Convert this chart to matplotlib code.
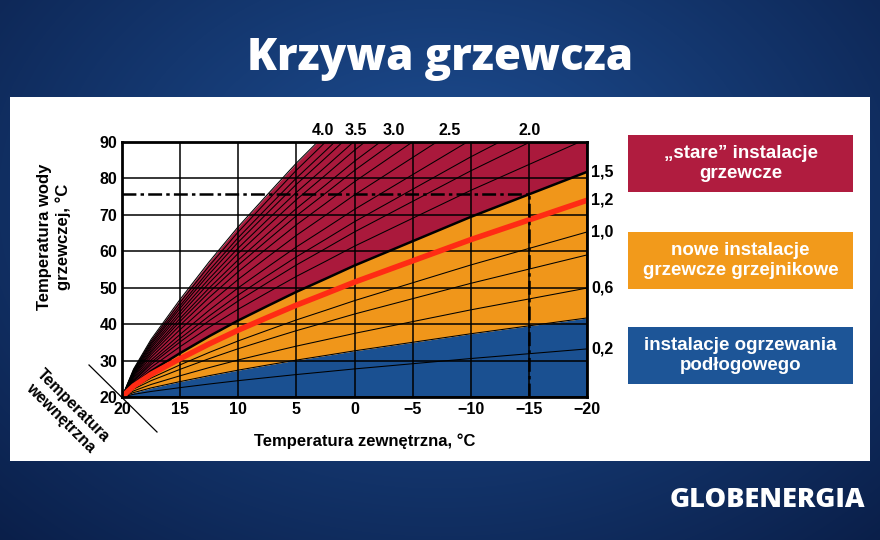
import numpy as np
import matplotlib
matplotlib.use("Agg")
import matplotlib.pyplot as plt
from matplotlib.patches import Rectangle

# ---------------- data ----------------
room_temp = 20
outdoor_temp = [20, 19, 17.5, 15, 12.5, 10, 7.5, 5, 2.5, 0, -5, -10, -15, -20]
curve_profile = [0, 0.056, 0.115, 0.195, 0.27, 0.34, 0.404, 0.467, 0.525, 0.584,
                 0.692, 0.80, 0.90, 1.0]

# rise of the supply temperature above room temperature at -20 °C outside, per curve
blue_lines_rise = [13.2]
orange_lines_rise = [29.9, 39.0, 45.3]
red_lines_rise = [70.9, 77.6, 82.4, 88.2, 95.0, 101.2, 106.5, 110.8, 116.0,
                  120.3, 125.0, 128.7, 133.3]
floor_limit_rise = 21.7      # blue / orange border
radiator_limit_rise = 61.8   # orange / crimson border (1,5)
old_limit_rise = 137.5       # outer crimson border (4.0)
highlight_rise = 54.0        # red curve (1,2)

right_labels = ['0,2', '0,6', '1,0', '1,2', '1,5']
right_label_rise = [13.2, 29.9, 45.3, 54.0, 61.8]
top_labels = ['4.0', '3.5', '3.0', '2.5', '2.0']
top_label_outdoor = [2.7, -0.1, -3.4, -8.2, -15.1]

design_supply = 75.7
design_outdoor = -15

x_ticks = [20, 15, 10, 5, 0, -5, -10, -15, -20]
x_tick_labels = ['20', '15', '10', '5', '0', '−5', '−10', '−15', '−20']
y_ticks = [20, 30, 40, 50, 60, 70, 80, 90]

legend_texts = ['„stare” instalacje\ngrzewcze',
                'nowe instalacje\ngrzewcze grzejnikowe',
                'instalacje ogrzewania\npodłogowego']

# ---------------- style ----------------
CRIMSON = '#aa193c'
ORANGE = '#f0961a'
BLUE = '#1a5091'
BOX_COLORS = ['#b01c3f', '#f29a1b', '#1d5597']
RED = '#ff2b14'

plt.rcParams['font.family'] = ['Liberation Sans', 'DejaVu Sans']
plt.rcParams['lines.scale_dashes'] = False

fig = plt.figure(figsize=(8.8, 5.4), dpi=100)

# background (pixel coordinates)
bg = fig.add_axes([0, 0, 1, 1], zorder=-10)
yy, xx = np.mgrid[0:540, 0:880]
d = np.sqrt(((xx - 440) / 650.0) ** 2 + ((yy - 200) / 480.0) ** 2)
t = np.clip(d, 0, 1)[..., None]
inner = np.array([30, 80, 150]) / 255.0
outer = np.array([10, 30, 72]) / 255.0
img = inner * (1 - t) + outer * t
bg.imshow(img, extent=[0, 880, 540, 0], aspect='auto', interpolation='bilinear')
bg.set_xlim(0, 880)
bg.set_ylim(540, 0)
bg.axis('off')
bg.add_patch(Rectangle((10, 97), 860, 364, facecolor='white', edgecolor='none'))

bg.text(440, 70, 'Krzywa grzewcza', ha='center', va='baseline', fontsize=31.5,
        color='white', fontweight='heavy', family=['Open Sans', 'DejaVu Sans'])
bg.text(767, 507, 'GLOBENERGIA', ha='center', va='baseline', fontsize=19.5,
        color='white', fontweight='heavy', family=['Open Sans', 'DejaVu Sans'])

# axis titles
bg.text(54, 237, 'Temperatura wody\ngrzewczej, °C', rotation=90, ha='center',
        va='center', fontsize=12, fontweight='bold', linespacing=1.25)
bg.text(365, 441, 'Temperatura zewnętrzna, °C', ha='center', va='center',
        fontsize=12, fontweight='bold')
bg.text(67, 412, 'Temperatura\nwewnętrzna', rotation=-45, rotation_mode='anchor',
        ha='center', va='center', fontsize=11.5, fontweight='bold', linespacing=1.15)
bg.plot([89, 157], [365, 432], color='black', lw=0.9)

# legend boxes
box_tops = [135, 232, 327]
for top, col, txt in zip(box_tops, BOX_COLORS, legend_texts):
    bg.add_patch(Rectangle((628, top), 225, 57, facecolor=col, edgecolor='none'))
    bg.text(740.5, top + 28.5, txt, ha='center', va='center', color='white',
            fontsize=13.5, fontweight='bold', linespacing=1.2)

# ---------------- main chart ----------------
ax = fig.add_axes([122 / 880, 143 / 540, 465 / 880, 255 / 540])
ax.set_xlim(20, -20)
ax.set_ylim(20, 90)

x = np.array(outdoor_temp)
prof = np.array(curve_profile)


def curve(rise):
    return room_temp + rise * prof


ax.fill_between(x, room_temp, curve(floor_limit_rise), color=BLUE, lw=0, zorder=1)
ax.fill_between(x, curve(floor_limit_rise), curve(radiator_limit_rise), color=ORANGE,
                lw=0, zorder=1)
ax.fill_between(x, curve(radiator_limit_rise), curve(old_limit_rise), color=CRIMSON,
                lw=0, zorder=1)

for r in blue_lines_rise + orange_lines_rise + red_lines_rise + [floor_limit_rise, old_limit_rise]:
    ax.plot(x, curve(r), color='black', lw=0.75, zorder=3)
ax.plot(x, curve(radiator_limit_rise), color='black', lw=1.8, zorder=3)
ax.plot(x, curve(highlight_rise), color=RED, lw=4.0, zorder=4, solid_capstyle='butt')

dash = (0, (10, 3, 2.5, 3))
ax.plot([20, design_outdoor], [design_supply, design_supply], color='black', lw=1.8,
        ls=dash, zorder=5)
ax.plot([design_outdoor, design_outdoor], [room_temp, design_supply], color='black',
        lw=1.8, ls=dash, zorder=5)

ax.set_xticks(x_ticks)
ax.set_xticklabels(x_tick_labels)
ax.set_yticks(y_ticks)
ax.grid(True, color='black', lw=1.1)
ax.set_axisbelow(False)
for lab in ax.get_xticklabels() + ax.get_yticklabels():
    lab.set_fontweight('bold')
ax.tick_params(length=0, labelsize=11.5, pad=3.5)
for s in ax.spines.values():
    s.set_linewidth(2)
    s.set_zorder(6)

for txt, r in zip(right_labels, right_label_rise):
    ax.annotate(txt, xy=(-20, room_temp + r), xytext=(3, 0), textcoords='offset points',
                ha='left', va='center', fontsize=11.5, fontweight='bold',
                annotation_clip=False)
for txt, xo in zip(top_labels, top_label_outdoor):
    ax.annotate(txt, xy=(xo, 90), xytext=(0, 3), textcoords='offset points',
                ha='center', va='bottom', fontsize=11.5, fontweight='bold',
                annotation_clip=False)

fig.savefig('out.png', dpi=100)
